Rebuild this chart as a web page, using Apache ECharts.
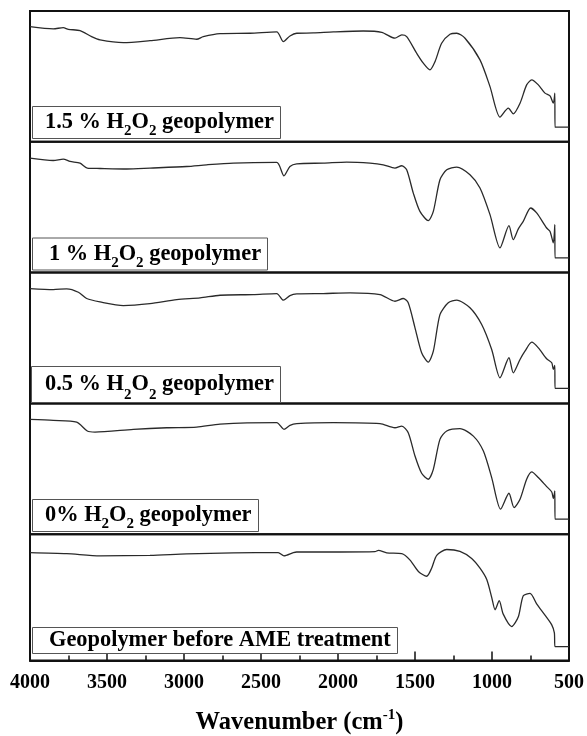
<!DOCTYPE html>
<html>
<head>
<meta charset="utf-8">
<style>
  html, body { margin: 0; padding: 0; background: #fff; }
  #chart { width: 587px; height: 736px; }
</style>
<script src="https://cdn.jsdelivr.net/npm/echarts@6/dist/echarts.min.js"></script>
</head>
<body>
<div id="chart"></div>
<script>
// FTIR spectra, wavenumber (cm-1) vs transmittance (a.u.), one panel per sample, top to bottom
const spec15 = [
  [4000, 88.0], [3849, 86.3], [3784, 87.3], [3751, 86.0], [3675, 85.0], [3600, 80.4], [3545, 77.9],
  [3394, 75.8], [3221, 77.3], [3026, 79.6], [2918, 78.4], [2875, 80.4], [2766, 82.7], [2571, 83.0],
  [2398, 84.0], [2355, 76.6], [2312, 80.9], [2268, 83.0], [2160, 83.2], [2030, 84.0], [1836, 84.7],
  [1716, 83.7], [1630, 79.2], [1586, 81.7], [1554, 80.4], [1489, 67.7], [1446, 60.1], [1403, 55.0],
  [1370, 61.3], [1327, 75.3], [1273, 82.2], [1229, 83.0], [1175, 79.2], [1078, 62.6], [1013, 42.2],
  [948, 18.9], [894, 25.7], [862, 21.4], [818, 29.5], [775, 43.5], [742, 47.3], [699, 43.5],
  [656, 37.2], [623, 35.1], [602, 29.5], [592, 37.2], [591, 11.2], [500, 11.2]
];
const spec10 = [
  [4000, 87.6], [3849, 85.7], [3784, 86.8], [3740, 85.0], [3675, 83.7], [3628, 79.9], [3545, 79.6],
  [3372, 79.2], [3221, 79.9], [2983, 81.1], [2853, 82.4], [2680, 83.7], [2398, 84.2], [2351, 74.0],
  [2312, 81.1], [2268, 83.2], [2095, 83.7], [1944, 84.5], [1792, 83.7], [1706, 82.4], [1630, 79.9],
  [1586, 81.7], [1554, 78.6], [1511, 60.8], [1468, 46.8], [1414, 39.7], [1381, 46.8], [1338, 71.0],
  [1294, 78.6], [1229, 80.7], [1143, 74.8], [1078, 64.7], [1013, 44.3], [948, 18.9], [890, 35.9],
  [862, 25.2], [829, 33.4], [797, 39.2], [749, 49.4], [710, 45.6], [645, 34.1], [623, 31.5],
  [602, 22.7], [592, 36.6], [591, 11.2], [500, 11.2]
];
const spec05 = [
  [4000, 87.8], [3849, 87.0], [3762, 87.6], [3686, 85.0], [3632, 80.2], [3545, 77.6], [3394, 74.8],
  [3221, 76.3], [3047, 79.4], [2896, 80.7], [2766, 82.7], [2550, 83.2], [2398, 84.0], [2355, 78.9],
  [2312, 82.4], [2268, 83.7], [2095, 84.0], [1922, 84.5], [1727, 83.2], [1630, 78.1], [1576, 80.2],
  [1544, 76.9], [1500, 57.8], [1457, 38.7], [1414, 31.5], [1381, 39.9], [1338, 67.9], [1284, 76.9],
  [1229, 78.9], [1143, 73.1], [1067, 60.3], [1002, 41.2], [948, 19.6], [890, 34.9], [862, 23.4],
  [818, 33.6], [786, 39.9], [742, 46.8], [699, 42.5], [645, 34.1], [612, 31.1], [602, 26.0],
  [592, 29.0], [591, 11.5], [500, 11.5]
];
const spec00 = [
  [4000, 87.8], [3849, 87.0], [3697, 85.7], [3628, 78.9], [3578, 78.1], [3329, 80.2], [3112, 81.4],
  [2918, 81.9], [2766, 84.2], [2398, 85.3], [2351, 80.2], [2312, 83.2], [2268, 84.5], [2030, 85.3],
  [1727, 84.5], [1630, 81.4], [1586, 82.7], [1544, 77.6], [1500, 59.8], [1457, 46.6], [1414, 42.0],
  [1381, 49.6], [1338, 72.5], [1294, 78.9], [1208, 80.7], [1121, 75.0], [1056, 63.6], [1002, 43.3],
  [944, 19.1], [890, 31.3], [857, 20.4], [818, 26.7], [775, 42.0], [742, 47.6], [699, 43.3],
  [645, 36.4], [612, 32.3], [602, 27.3], [592, 33.1], [591, 11.5], [500, 11.5]
];
const specRaw = [
  [4000, 85.4], [3762, 84.6], [3545, 82.8], [3221, 83.3], [2983, 84.4], [2680, 85.2], [2388, 85.4],
  [2351, 82.8], [2290, 85.4], [2268, 85.9], [1987, 85.9], [1760, 86.2], [1738, 87.2], [1684, 85.2],
  [1586, 84.6], [1532, 79.5], [1478, 70.5], [1424, 66.7], [1392, 73.1], [1359, 83.3], [1294, 87.9],
  [1208, 86.4], [1132, 80.8], [1078, 73.1], [1034, 64.1], [1002, 50.0], [980, 40.2], [953, 47.4],
  [927, 36.7], [872, 26.9], [829, 34.6], [797, 51.3], [753, 53.1], [710, 44.8], [656, 35.9],
  [612, 28.2], [595, 21.8], [591, 11.0], [500, 11.0]
];

// Panel captions as rich-text segments (s = subscript)
const sampleLabels = [
  '{t|1.5 % H}{s|2}{t|O}{s|2}{t| geopolymer}',
  '{t|1 % H}{s|2}{t|O}{s|2}{t| geopolymer}',
  '{t|0.5 % H}{s|2}{t|O}{s|2}{t| geopolymer}',
  '{t|0% H}{s|2}{t|O}{s|2}{t| geopolymer}',
  '{t|Geopolymer before AME treatment}'
];
const spectra = [spec15, spec10, spec05, spec00, specRaw];

const xTicks = { min: 500, max: 4000, step: 500 };

const SERIF = '"Liberation Serif", "Times New Roman", serif';
const panelTop = 11, panelH = 130.8, plotLeft = 30, plotW = 539;

// per-caption box placement: [left, top, lineHeight, left padding]
const captionBoxes = [
  [32, 106, 33, 13],
  [32, 237.5, 33, 17],
  [31, 366, 36.5, 14],
  [32, 499, 33, 13],
  [32, 627, 27, 17]
];

const grids = [], xAxes = [], yAxes = [], series = [], titles = [];
spectra.forEach(function (data, i) {
  const last = i === spectra.length - 1;
  grids.push({
    left: plotLeft, width: plotW, top: panelTop + i * panelH, height: panelH,
    show: true, borderColor: '#111', borderWidth: 2, backgroundColor: 'transparent'
  });
  xAxes.push({
    type: 'value', gridIndex: i, inverse: true,
    min: xTicks.min, max: xTicks.max, interval: xTicks.step,
    show: last,
    axisLine: { show: true, onZero: false, lineStyle: { color: '#111', width: 2 } },
    axisTick: { show: true, inside: true, length: 9, lineStyle: { color: '#111', width: 1.5 } },
    minorTick: { show: true, splitNumber: 2, length: 5, lineStyle: { color: '#111', width: 1.5 } },
    axisLabel: {
      show: last, margin: 12, color: '#000', fontFamily: SERIF, fontWeight: 'bold', fontSize: 20,
      formatter: function (v) { return String(v); }
    },
    splitLine: { show: false },
    name: last ? '{a|Wavenumber (cm}{sup|-1}{a|)}' : '',
    nameLocation: 'middle', nameGap: 47,
    nameTextStyle: {
      rich: {
        a: { fontFamily: SERIF, fontWeight: 'bold', fontSize: 24.5, color: '#000', lineHeight: 30 },
        sup: { fontFamily: SERIF, fontWeight: 'bold', fontSize: 15, color: '#000', lineHeight: 16, verticalAlign: 'top' }
      }
    }
  });
  yAxes.push({ type: 'value', gridIndex: i, min: 0, max: 100, show: false });
  series.push({
    type: 'line', xAxisIndex: i, yAxisIndex: i, data: data,
    showSymbol: false, smooth: 0.25, animation: false,
    lineStyle: { color: '#2a2a2a', width: 1.3 }
  });
  const b = captionBoxes[i];
  titles.push({
    text: sampleLabels[i], left: b[0], top: b[1], padding: [0, 7, 0, b[3]],
    backgroundColor: '#fff', borderColor: '#555', borderWidth: 1,
    textStyle: {
      lineHeight: b[2],
      rich: {
        t: { fontFamily: SERIF, fontWeight: 'bold', fontSize: 22.4, color: '#000', lineHeight: b[2] },
        s: { fontFamily: SERIF, fontWeight: 'bold', fontSize: 15, color: '#000', lineHeight: 15, verticalAlign: 'bottom' }
      }
    }
  });
});

const chart = echarts.init(document.getElementById('chart'), null, { renderer: 'canvas' });
chart.setOption({
  animation: false,
  backgroundColor: '#fff',
  title: titles,
  grid: grids,
  xAxis: xAxes,
  yAxis: yAxes,
  series: series
});
</script>
</body>
</html>
